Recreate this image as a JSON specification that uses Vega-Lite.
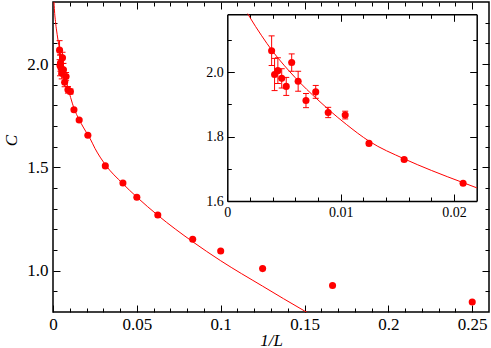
{
  "$schema": "https://vega.github.io/schema/vega-lite/v6.json",
  "width": 436,
  "height": 310,
  "autosize": {"type": "none"},
  "padding": {"left": 53, "top": 2, "right": 2, "bottom": 36},
  "background": "white",
  "config": {
    "view": {"stroke": "black", "strokeWidth": 1.5},
    "axis": {"grid": false, "tickColor": "black", "tickWidth": 1, "domainColor": "black", "domainWidth": 1.5, "labelFont": "Liberation Serif", "labelColor": "black", "titleFont": "Liberation Serif", "titleColor": "black", "titleFontWeight": "normal"}
  },
  "datasets": {
    "pts": [
      {"v": 0.00391, "C": 2.067, "lo": 2.021, "hi": 2.113},
      {"v": 0.00417, "C": 1.993, "lo": 1.943, "hi": 2.043},
      {"v": 0.00446, "C": 2.005, "lo": 1.965, "hi": 2.045},
      {"v": 0.0048, "C": 1.981, "lo": 1.951, "hi": 2.011},
      {"v": 0.0052, "C": 1.956, "lo": 1.928, "hi": 1.984},
      {"v": 0.00568, "C": 2.03, "lo": 2.003, "hi": 2.057},
      {"v": 0.00625, "C": 1.972, "lo": 1.941, "hi": 2.003},
      {"v": 0.00694, "C": 1.912, "lo": 1.89, "hi": 1.934},
      {"v": 0.0078, "C": 1.939, "lo": 1.919, "hi": 1.959},
      {"v": 0.0089, "C": 1.875, "lo": 1.859, "hi": 1.891},
      {"v": 0.0104, "C": 1.867, "lo": 1.855, "hi": 1.879},
      {"v": 0.0125, "C": 1.779, "lo": 1.773, "hi": 1.785},
      {"v": 0.0156, "C": 1.729, "lo": 1.724, "hi": 1.734},
      {"v": 0.0208, "C": 1.655, "lo": 1.651, "hi": 1.659},
      {"v": 0.0312, "C": 1.507, "lo": 1.507, "hi": 1.507},
      {"v": 0.0417, "C": 1.424, "lo": 1.424, "hi": 1.424},
      {"v": 0.05, "C": 1.355, "lo": 1.355, "hi": 1.355},
      {"v": 0.0625, "C": 1.269, "lo": 1.269, "hi": 1.269},
      {"v": 0.0833, "C": 1.152, "lo": 1.152, "hi": 1.152},
      {"v": 0.1, "C": 1.095, "lo": 1.095, "hi": 1.095},
      {"v": 0.125, "C": 1.01, "lo": 1.01, "hi": 1.01},
      {"v": 0.1667, "C": 0.928, "lo": 0.928, "hi": 0.928},
      {"v": 0.25, "C": 0.848, "lo": 0.848, "hi": 0.848}
    ],
    "fit": [
      {"v": 0.0003, "C": 2.36},
      {"v": 0.0006, "C": 2.3},
      {"v": 0.001, "C": 2.245},
      {"v": 0.0015, "C": 2.205},
      {"v": 0.0018, "C": 2.182},
      {"v": 0.002, "C": 2.17},
      {"v": 0.003, "C": 2.115},
      {"v": 0.004, "C": 2.065},
      {"v": 0.005, "C": 2.022},
      {"v": 0.006, "C": 1.983},
      {"v": 0.007, "C": 1.947},
      {"v": 0.008, "C": 1.914},
      {"v": 0.009, "C": 1.882},
      {"v": 0.0105, "C": 1.838},
      {"v": 0.0125, "C": 1.786},
      {"v": 0.0156, "C": 1.731},
      {"v": 0.018, "C": 1.695},
      {"v": 0.0208, "C": 1.657},
      {"v": 0.022, "C": 1.641},
      {"v": 0.025, "C": 1.592},
      {"v": 0.0312, "C": 1.513},
      {"v": 0.0415, "C": 1.422},
      {"v": 0.05, "C": 1.356},
      {"v": 0.0625, "C": 1.268},
      {"v": 0.0833, "C": 1.14},
      {"v": 0.1, "C": 1.048},
      {"v": 0.125, "C": 0.925},
      {"v": 0.15, "C": 0.805},
      {"v": 0.155, "C": 0.782}
    ]
  },
  "resolve": {"scale": {"x": "independent", "y": "independent"}},
  "layer": [
    {
      "encoding": {
        "x": {"field": "v", "type": "quantitative", "scale": {"domain": [0, 0.26], "nice": false, "zero": false}, "axis": null},
        "y": {"field": "C", "type": "quantitative", "scale": {"domain": [0.8, 2.3], "nice": false, "zero": false}, "axis": null}
      },
      "layer": [
        {"data": {"name": "fit"}, "mark": {"type": "line", "color": "#ff0000", "strokeWidth": 1, "clip": true, "interpolate": "monotone"}},
        {"data": {"name": "pts"}, "transform": [{"filter": "datum.hi > datum.lo"}],
          "mark": {"type": "rule", "color": "#ff0000", "strokeWidth": 1},
          "encoding": {"y": {"field": "lo", "type": "quantitative", "scale": {"domain": [0.8, 2.3], "nice": false, "zero": false}, "axis": null}, "y2": {"field": "hi"}}},
        {"data": {"name": "pts"}, "transform": [{"filter": "datum.hi > datum.lo"}],
          "mark": {"type": "tick", "color": "#ff0000", "orient": "horizontal", "size": 6, "thickness": 1, "opacity": 1},
          "encoding": {"y": {"field": "lo", "type": "quantitative", "scale": {"domain": [0.8, 2.3], "nice": false, "zero": false}, "axis": null}}},
        {"data": {"name": "pts"}, "transform": [{"filter": "datum.hi > datum.lo"}],
          "mark": {"type": "tick", "color": "#ff0000", "orient": "horizontal", "size": 6, "thickness": 1, "opacity": 1},
          "encoding": {"y": {"field": "hi", "type": "quantitative", "scale": {"domain": [0.8, 2.3], "nice": false, "zero": false}, "axis": null}}},
        {"data": {"name": "pts"}, "mark": {"type": "circle", "color": "#ff0000", "opacity": 1, "size": 50}}
      ]
    },
    {
      "data": {"name": "pts"},
      "mark": {"type": "point", "opacity": 0},
      "encoding": {
        "x": {"field": "v", "type": "quantitative", "scale": {"domain": [0, 0.26], "nice": false, "zero": false},
          "axis": {"orient": "bottom", "domain": false, "values": [0,0.01,0.02,0.03,0.04,0.05,0.06,0.07,0.08,0.09,0.1,0.11,0.12,0.13,0.14,0.15,0.16,0.17,0.18,0.19,0.2,0.21,0.22,0.23,0.24,0.25],
            "tickSize": {"condition": {"test": "abs(datum.value*20-round(datum.value*20))<1e-6", "value": -7}, "value": -4},
            "labelExpr": "abs(datum.value*20-round(datum.value*20))<1e-6 ? format(datum.value,'~g') : ''",
            "labelFontSize": 17, "labelPadding": 11, "labelFlush": false, "labelOverlap": false,
            "title": "1/L", "titleFontSize": 17, "titleFontStyle": "italic", "titleY": 33, "titleBaseline": "alphabetic"}},
        "y": {"field": "C", "type": "quantitative", "scale": {"domain": [0.8, 2.3], "nice": false, "zero": false},
          "axis": {"orient": "left", "domain": false, "values": [0.9,1,1.1,1.2,1.3,1.4,1.5,1.6,1.7,1.8,1.9,2,2.1,2.2],
            "tickSize": {"condition": {"test": "abs(datum.value*2-round(datum.value*2))<1e-6", "value": -7}, "value": -4},
            "labelExpr": "abs(datum.value*2-round(datum.value*2))<1e-6 ? format(datum.value,'.1f') : ''",
            "labelFontSize": 17, "labelPadding": 12, "labelOverlap": false,
            "title": "C", "titleFontSize": 17, "titleFontStyle": "italic", "titleAngle": 270, "titleX": -42, "titleY": 138, "titleAlign": "center", "titleBaseline": "middle"}}
      }
    },
    {
      "data": {"name": "pts"},
      "mark": {"type": "point", "opacity": 0},
      "encoding": {
        "x": {"field": "v", "type": "quantitative", "scale": {"domain": [0, 0.26], "nice": false, "zero": false},
          "axis": {"orient": "top", "domain": false, "labels": false, "title": null, "values": [0.01,0.02,0.03,0.04,0.05,0.06,0.07,0.08,0.09,0.1,0.11,0.12,0.13,0.14,0.15,0.16,0.17,0.18,0.19,0.2,0.21,0.22,0.23,0.24,0.25],
            "tickSize": {"condition": {"test": "abs(datum.value*20-round(datum.value*20))<1e-6", "value": -7}, "value": -4}}},
        "y": {"field": "C", "type": "quantitative", "scale": {"domain": [0.8, 2.3], "nice": false, "zero": false},
          "axis": {"orient": "right", "domain": false, "labels": false, "title": null, "values": [0.9,1,1.1,1.2,1.3,1.4,1.5,1.6,1.7,1.8,1.9,2,2.1,2.2],
            "tickSize": {"condition": {"test": "abs(datum.value*2-round(datum.value*2))<1e-6", "value": -7}, "value": -4}}}
      }
    },
    {
      "encoding": {
        "x": {"field": "v", "type": "quantitative", "scale": {"domain": [0, 0.022], "range": [174.3, 423.7], "nice": false, "zero": false}, "axis": null},
        "y": {"field": "C", "type": "quantitative", "scale": {"domain": [1.6, 2.18], "range": [199, 12.3], "nice": false, "zero": false}, "axis": null}
      },
      "layer": [
        {"data": {"name": "fit"}, "transform": [{"filter": "datum.v >= 0.0018 && datum.v <= 0.022"}],
          "mark": {"type": "line", "color": "#ff0000", "strokeWidth": 1, "interpolate": "monotone"}},
        {"data": {"name": "pts"}, "transform": [{"filter": "datum.hi > datum.lo && datum.v <= 0.022"}],
          "mark": {"type": "rule", "color": "#ff0000", "strokeWidth": 1},
          "encoding": {"y": {"field": "lo", "type": "quantitative", "scale": {"domain": [1.6, 2.18], "range": [199, 12.3], "nice": false, "zero": false}, "axis": null}, "y2": {"field": "hi"}}},
        {"data": {"name": "pts"}, "transform": [{"filter": "datum.hi > datum.lo && datum.v <= 0.022"}],
          "mark": {"type": "tick", "color": "#ff0000", "orient": "horizontal", "size": 6, "thickness": 1, "opacity": 1},
          "encoding": {"y": {"field": "lo", "type": "quantitative", "scale": {"domain": [1.6, 2.18], "range": [199, 12.3], "nice": false, "zero": false}, "axis": null}}},
        {"data": {"name": "pts"}, "transform": [{"filter": "datum.hi > datum.lo && datum.v <= 0.022"}],
          "mark": {"type": "tick", "color": "#ff0000", "orient": "horizontal", "size": 6, "thickness": 1, "opacity": 1},
          "encoding": {"y": {"field": "hi", "type": "quantitative", "scale": {"domain": [1.6, 2.18], "range": [199, 12.3], "nice": false, "zero": false}, "axis": null}}},
        {"data": {"name": "pts"}, "transform": [{"filter": "datum.v <= 0.022"}],
          "mark": {"type": "circle", "color": "#ff0000", "opacity": 1, "size": 50}}
      ]
    },
    {
      "data": {"name": "pts"},
      "transform": [{"filter": "datum.v <= 0.022"}],
      "mark": {"type": "point", "opacity": 0},
      "encoding": {
        "x": {"field": "v", "type": "quantitative", "scale": {"domain": [0, 0.022], "range": [174.3, 423.7], "nice": false, "zero": false},
          "axis": {"orient": "bottom", "offset": -111, "domain": true, "values": [0,0.002,0.004,0.006,0.008,0.01,0.012,0.014,0.016,0.018,0.02],
            "tickSize": {"condition": {"test": "abs(datum.value*100-round(datum.value*100))<1e-6", "value": -7}, "value": -4},
            "labelExpr": "abs(datum.value*100-round(datum.value*100))<1e-6 ? format(datum.value,'~g') : ''",
            "labelFontSize": 14, "labelPadding": 11, "labelFlush": false, "labelOverlap": false, "title": null}},
        "y": {"field": "C", "type": "quantitative", "scale": {"domain": [1.6, 2.18], "range": [199, 12.3], "nice": false, "zero": false},
          "axis": {"orient": "left", "offset": -174.3, "domain": true, "values": [1.6,1.7,1.8,1.9,2,2.1],
            "tickSize": {"condition": {"test": "abs(datum.value*5-round(datum.value*5))<1e-6", "value": -7}, "value": -4},
            "labelExpr": "abs(datum.value*5-round(datum.value*5))<1e-6 ? format(datum.value,'.1f') : ''",
            "labelFontSize": 14, "labelPadding": 11, "labelOverlap": false, "title": null}}
      }
    },
    {
      "data": {"name": "pts"},
      "transform": [{"filter": "datum.v <= 0.022"}],
      "mark": {"type": "point", "opacity": 0},
      "encoding": {
        "x": {"field": "v", "type": "quantitative", "scale": {"domain": [0, 0.022], "range": [174.3, 423.7], "nice": false, "zero": false},
          "axis": {"orient": "top", "offset": -12.3, "domain": true, "labels": false, "title": null, "values": [0.002,0.004,0.006,0.008,0.01,0.012,0.014,0.016,0.018,0.02],
            "tickSize": {"condition": {"test": "abs(datum.value*100-round(datum.value*100))<1e-6", "value": -7}, "value": -4}}},
        "y": {"field": "C", "type": "quantitative", "scale": {"domain": [1.6, 2.18], "range": [199, 12.3], "nice": false, "zero": false},
          "axis": {"orient": "right", "offset": -12.3, "domain": true, "labels": false, "title": null, "values": [1.7,1.8,1.9,2,2.1],
            "tickSize": {"condition": {"test": "abs(datum.value*5-round(datum.value*5))<1e-6", "value": -7}, "value": -4}}}
      }
    }
  ]
}
